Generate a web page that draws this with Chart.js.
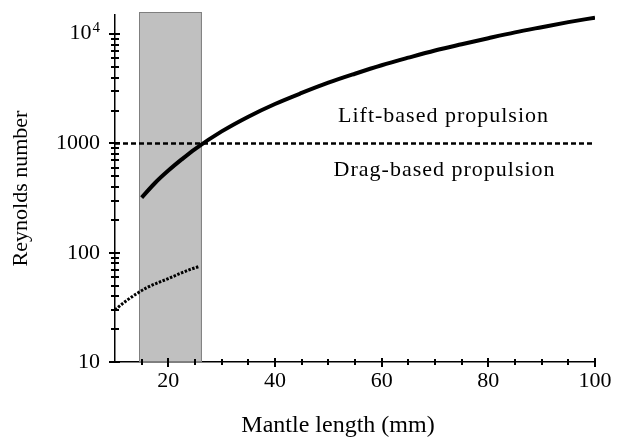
<!DOCTYPE html>
<html><head><meta charset="utf-8">
<script src="https://cdn.jsdelivr.net/npm/chart.js@4.4.1/dist/chart.umd.min.js"></script>
<style>html,body{margin:0;padding:0;background:#fff}canvas{display:block}</style>
</head><body>
<canvas id="c" width="622" height="437"></canvas>
<script>
const FONT = "'Liberation Serif','Times New Roman',Times,serif";
// Data
const solidX = [15, 17.5, 20, 22.5, 25, 30, 35, 40, 45, 50, 55, 60, 65, 70, 75, 80, 85, 90, 95, 100];
const solidY = [320, 435, 565, 715, 890, 1290, 1760, 2300, 2900, 3600, 4350, 5200, 6100, 7100, 8100, 9200, 10400, 11600, 12900, 14200];
const dottedX = [10, 12, 14, 16, 18, 20, 22, 24, 25.8];
const dottedY = [30, 36, 42, 48, 53, 58, 64, 70, 75];
const thresholdX = [10, 100];
const thresholdY = [1000, 1000];
const bandRange = [14.5, 26.3];
const xTickValues = [20, 40, 60, 80, 100];
const xTickLabels = ['20', '40', '60', '80', '100'];
const xMinorTicks = [15, 25, 30, 35, 45, 50, 55, 65, 70, 75, 85, 90, 95];
const yTickValues = [10, 100, 1000, 10000];
const yTickLabels = ['10', '100', '1000', '10'];
const yTickSuperscripts = ['', '', '', '4'];
const yMinorTicks = [20, 30, 40, 50, 60, 70, 80, 90, 200, 300, 400, 500, 600, 700, 800, 900, 2000, 3000, 4000, 5000, 6000, 7000, 8000, 9000];
const xTitle = 'Mantle length (mm)';
const yTitle = 'Reynolds number';
const annotationTexts = ['Lift-based propulsion', 'Drag-based propulsion'];
const annotationX = [71.6, 71.8];
const annotationY = [1570, 505];

const pts = (xs, ys) => xs.map((v, i) => ({x: v, y: ys[i]}));

const decor = {
  id: 'decor',
  beforeDatasetsDraw(chart) {
    const {ctx, chartArea: a, scales: {x}} = chart;
    const x0 = x.getPixelForValue(bandRange[0]), x1 = x.getPixelForValue(bandRange[1]);
    ctx.save();
    ctx.fillStyle = '#c0c0c0';
    ctx.fillRect(x0, a.top - 3, x1 - x0, a.bottom - a.top + 3);
    ctx.strokeStyle = '#7f7f7f';
    ctx.lineWidth = 1;
    ctx.strokeRect(x0 + 0.5, a.top - 2.5, x1 - x0 - 1, a.bottom - a.top + 2);
    ctx.restore();
  },
  afterDraw(chart) {
    const {ctx, chartArea: a, scales: {x, y}} = chart;
    ctx.save();
    ctx.strokeStyle = '#000';
    ctx.lineWidth = 2;
    ctx.beginPath();
    const ax = a.left, ay = a.bottom;
    yTickValues.forEach(v => { const p = Math.round(y.getPixelForValue(v)); ctx.moveTo(ax - 6, p); ctx.lineTo(ax + 5, p); });
    yMinorTicks.forEach(v => { const p = Math.round(y.getPixelForValue(v)); ctx.moveTo(ax - 4, p); ctx.lineTo(ax + 4, p); });
    xTickValues.forEach(v => { const p = Math.round(x.getPixelForValue(v)); ctx.moveTo(p, ay - 4); ctx.lineTo(p, ay + 5); });
    xMinorTicks.forEach(v => { const p = Math.round(x.getPixelForValue(v)); ctx.moveTo(p, ay - 3); ctx.lineTo(p, ay + 3); });
    ctx.stroke();
    ctx.fillStyle = '#000';
    // labels with superscripts (e.g. 10^4)
    ctx.textBaseline = 'alphabetic';
    yTickValues.forEach((v, i) => {
      if (!yTickSuperscripts[i]) return;
      const p = y.getPixelForValue(v);
      ctx.font = '15px ' + FONT;
      ctx.textAlign = 'right';
      const sw = ctx.measureText(yTickSuperscripts[i]).width;
      ctx.fillText(yTickSuperscripts[i], ax - 15, p - 2);
      ctx.font = '22px ' + FONT;
      ctx.fillText(yTickLabels[i], ax - 16 - sw, p + 5);
    });
    // x axis title
    ctx.font = '24px ' + FONT;
    ctx.textAlign = 'center';
    ctx.fillText(xTitle, (a.left + a.right) / 2 - 17, a.bottom + 70);
    // annotations
    ctx.font = '22px ' + FONT;
    ctx.letterSpacing = '1px';
    annotationTexts.forEach((t, i) => {
      ctx.fillText(t, x.getPixelForValue(annotationX[i]), y.getPixelForValue(annotationY[i]));
    });
    ctx.restore();
  }
};

new Chart(document.getElementById('c'), {
  type: 'line',
  data: {
    datasets: [
      {data: pts(thresholdX, thresholdY), borderColor: '#000', borderWidth: 2.5, borderDash: [5, 3], pointRadius: 0, fill: false},
      {data: pts(solidX, solidY), borderColor: '#000', borderWidth: 4, pointRadius: 0, cubicInterpolationMode: 'monotone', fill: false},
      {data: pts(dottedX, dottedY), borderColor: '#000', borderWidth: 3, borderDash: [2.5, 1.5], pointRadius: 0, cubicInterpolationMode: 'monotone', fill: false}
    ]
  },
  options: {
    responsive: false,
    animation: false,
    devicePixelRatio: 1,
    layout: {padding: {top: 15, right: 27, left: 0, bottom: 0}},
    plugins: {legend: {display: false}, tooltip: {enabled: false}},
    scales: {
      x: {
        type: 'linear', min: 10, max: 100,
        grid: {display: false, drawTicks: false},
        border: {display: true, color: '#000', width: 1.5},
        afterBuildTicks: s => { s.ticks = xTickValues.map(v => ({value: v})); },
        ticks: {color: '#000', font: {family: FONT, size: 22}, padding: 6, maxRotation: 0, autoSkip: false,
          callback: (v) => { const i = xTickValues.indexOf(v); return i >= 0 ? xTickLabels[i] : ''; }},
        title: {display: false, text: xTitle},
        afterFit: s => { s.height = 75; s.paddingLeft = 0; s.paddingRight = 0; s.paddingTop = 0; s.paddingBottom = 0; }
      },
      y: {
        type: 'logarithmic', min: 10, max: 15000,
        grid: {display: false, drawTicks: false},
        border: {display: true, color: '#000', width: 1.5},
        afterBuildTicks: s => { s.ticks = yTickValues.map(v => ({value: v})); },
        ticks: {color: '#000', font: {family: FONT, size: 22}, padding: 15, autoSkip: false,
          callback: (v) => { const i = yTickValues.indexOf(v); return (i >= 0 && !yTickSuperscripts[i]) ? yTickLabels[i] : ''; }},
        title: {display: true, text: yTitle, color: '#000', font: {family: FONT, size: 22}, padding: {top: 8, bottom: 0}},
        afterFit: s => { s.width = 115; s.paddingLeft = 0; s.paddingRight = 0; s.paddingTop = 0; s.paddingBottom = 0; }
      }
    }
  },
  plugins: [decor]
});
</script>
</body></html>
